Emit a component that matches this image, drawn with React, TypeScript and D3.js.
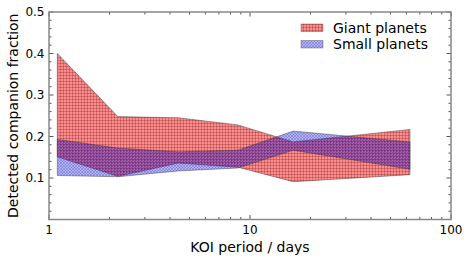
import React from "react";
import * as d3 from "d3";

const periods = [1.1, 2.2, 4.4, 8.7, 16.4, 62.5];
const giantLower = [0.151, 0.104, 0.136, 0.126, 0.091, 0.108];
const giantUpper = [0.4, 0.248, 0.245, 0.228, 0.187, 0.217];
const smallLower = [0.106, 0.103, 0.117, 0.124, 0.167, 0.121];
const smallUpper = [0.193, 0.172, 0.163, 0.167, 0.213, 0.187];

const xMajor = [1, 10, 100];
const xMajorLabels = ["1", "10", "100"];
const yMajor = [0.1, 0.2, 0.3, 0.4, 0.5];
const yMajorLabels = ["0.1", "0.2", "0.3", "0.4", "0.5"];
const legendLabels = ["Giant planets", "Small planets"];

const W = 469;
const H = 261;
const L = 49, R = 451, T = 12, B = 219.5;

export default function App() {
  const x = d3.scaleLog().domain([1, 100]).range([L, R]);
  const y = d3.scaleLinear().domain([0, 0.5]).range([B, T]);

  const giantData = periods.map((p, i) => ({ p, lo: giantLower[i], hi: giantUpper[i] }));
  const smallData = periods.map((p, i) => ({ p, lo: smallLower[i], hi: smallUpper[i] }));
  const area = d3
    .area<{ p: number; lo: number; hi: number }>()
    .x((d) => x(d.p))
    .y0((d) => y(d.lo))
    .y1((d) => y(d.hi));

  const xMinor: number[] = [];
  for (const dec of [1, 10]) for (let k = 2; k <= 9; k++) xMinor.push(dec * k);
  const yMinor: number[] = [];
  for (let v = 0.02; v < 0.5; v += 0.02) {
    const r = Math.round(v * 100) / 100;
    if (Math.abs(r * 10 - Math.round(r * 10)) > 1e-6) yMinor.push(r);
  }

  const font = "DejaVu Sans, sans-serif";
  const tickCol = "#555";
  const majLen = 4.5;
  const minLen = 2.5;

  return (
    <div style={{ position: "fixed", left: 0, top: 0 }}>
      <svg width={W} height={H} style={{ display: "block", background: "#fff" }}>
        <defs>
          <pattern id="grid" patternUnits="userSpaceOnUse" width={3} height={3}>
            <path d="M0,0.5 H3 M0.5,0 V3" stroke="rgba(110,20,20,0.35)" strokeWidth={0.8} fill="none" />
          </pattern>
          <pattern id="dots" patternUnits="userSpaceOnUse" width={3} height={3}>
            <circle cx={1} cy={1} r={0.8} fill="rgba(20,20,80,0.45)" />
            <circle cx={2.5} cy={2.5} r={0.6} fill="rgba(20,20,80,0.35)" />
          </pattern>
        </defs>

        {/* Giant planets band */}
        <path d={area(giantData) || ""} fill="#ff0000" fillOpacity={0.45} />
        <path d={area(giantData) || ""} fill="url(#grid)" stroke="rgba(60,60,60,0.45)" strokeWidth={1} />
        {/* Small planets band */}
        <path d={area(smallData) || ""} fill="#0000ff" fillOpacity={0.3} />
        <path d={area(smallData) || ""} fill="url(#dots)" stroke="rgba(60,60,60,0.45)" strokeWidth={1} />

        {/* ticks */}
        {xMajor.map((v) => (
          <g key={"xM" + v}>
            <line x1={x(v)} x2={x(v)} y1={B} y2={B - majLen} stroke={tickCol} />
            <line x1={x(v)} x2={x(v)} y1={T} y2={T + majLen} stroke={tickCol} />
          </g>
        ))}
        {xMinor.map((v) => (
          <g key={"xm" + v}>
            <line x1={x(v)} x2={x(v)} y1={B} y2={B - minLen} stroke={tickCol} />
            <line x1={x(v)} x2={x(v)} y1={T} y2={T + minLen} stroke={tickCol} />
          </g>
        ))}
        {yMajor.map((v) => (
          <g key={"yM" + v}>
            <line x1={L} x2={L + majLen} y1={y(v)} y2={y(v)} stroke={tickCol} />
            <line x1={R} x2={R - majLen} y1={y(v)} y2={y(v)} stroke={tickCol} />
          </g>
        ))}
        {yMinor.map((v) => (
          <g key={"ym" + v}>
            <line x1={L} x2={L + minLen} y1={y(v)} y2={y(v)} stroke={tickCol} />
            <line x1={R} x2={R - minLen} y1={y(v)} y2={y(v)} stroke={tickCol} />
          </g>
        ))}

        {/* frame */}
        <rect x={L} y={T} width={R - L} height={B - T} fill="none" stroke="#888" strokeWidth={1.5} />

        {/* tick labels */}
        {xMajor.map((v, i) => (
          <text key={"xl" + v} x={x(v)} y={233.5} textAnchor="middle" fontFamily={font} fontSize={12} fill="#000">
            {xMajorLabels[i]}
          </text>
        ))}
        {yMajor.map((v, i) => (
          <text key={"yl" + v} x={44.5} y={y(v) + 4.3} textAnchor="end" fontFamily={font} fontSize={12} fill="#000">
            {yMajorLabels[i]}
          </text>
        ))}

        {/* axis labels */}
        <text x={(L + R) / 2} y={251.5} textAnchor="middle" fontFamily={font} fontSize={14} fill="#000">
          KOI period / days
        </text>
        <text
          x={18}
          y={(T + B) / 2}
          transform={`rotate(-90, 18, ${(T + B) / 2})`}
          textAnchor="middle"
          fontFamily={font}
          fontSize={14}
          fill="#000"
        >
          Detected companion fraction
        </text>

        {/* legend */}
        <g>
          <rect x={301} y={24} width={22} height={7.5} fill="#ff0000" fillOpacity={0.45} />
          <rect x={301} y={24} width={22} height={7.5} fill="url(#grid)" stroke="rgba(60,60,60,0.45)" strokeWidth={0.8} />
          <text x={333} y={32.5} fontFamily={font} fontSize={14} fill="#000">
            {legendLabels[0]}
          </text>
          <rect x={301} y={40.5} width={22} height={7.5} fill="#0000ff" fillOpacity={0.3} />
          <rect x={301} y={40.5} width={22} height={7.5} fill="url(#dots)" stroke="rgba(60,60,60,0.45)" strokeWidth={0.8} />
          <text x={333} y={49} fontFamily={font} fontSize={14} fill="#000">
            {legendLabels[1]}
          </text>
        </g>
      </svg>
    </div>
  );
}
